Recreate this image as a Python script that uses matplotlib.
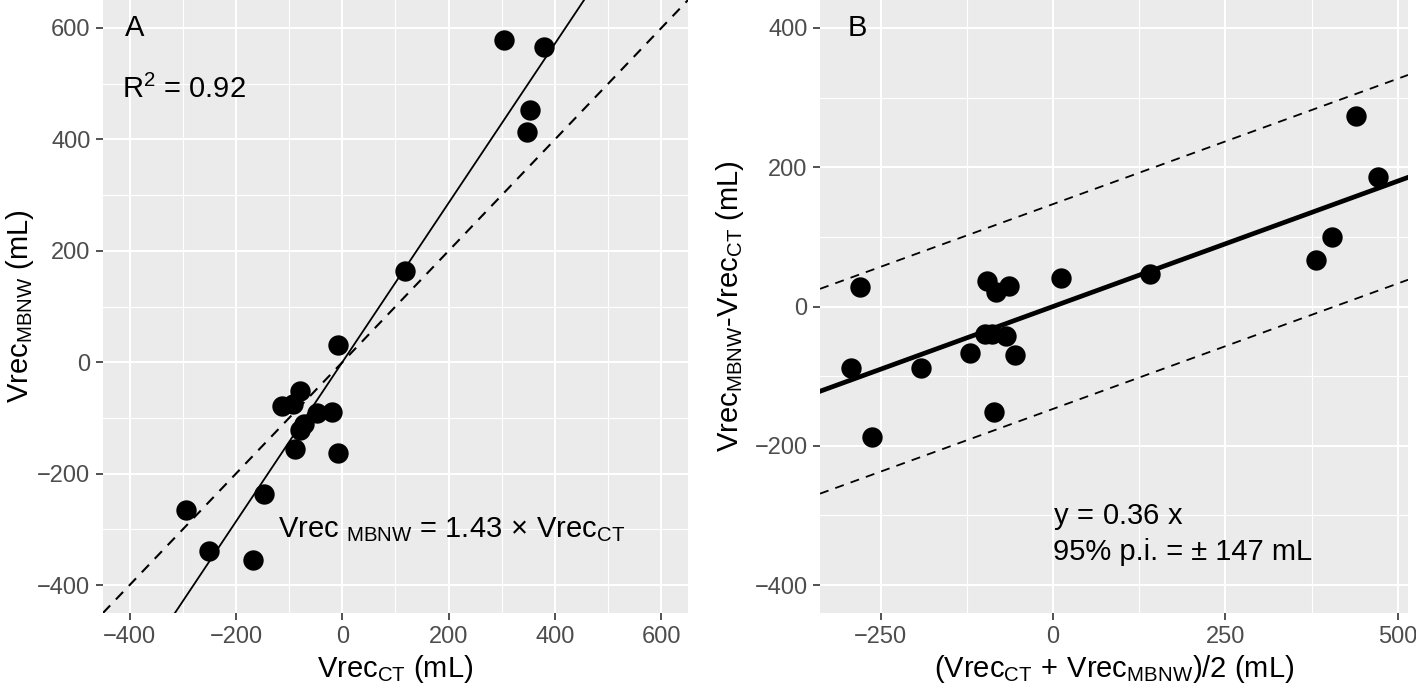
import numpy as np
import matplotlib as mpl
import matplotlib.pyplot as plt
from matplotlib.ticker import MultipleLocator

mpl.rcParams['font.family'] = ['Liberation Sans', 'DejaVu Sans']
mpl.rcParams['mathtext.fontset'] = 'custom'
mpl.rcParams['mathtext.rm'] = 'Liberation Sans'
mpl.rcParams['mathtext.it'] = 'Liberation Sans:italic'

# panel A: Vrec by CT vs Vrec by MBNW (mL)
vrec_ct = [304, 380, 353, 347, 117, -8, -79, -113, -92, -48, -20, -80, -72, -88, -8, -148, -293, -251, -168]
vrec_mbnw = [578, 566, 453, 414, 163, 31, -51, -78, -75, -91, -90, -121, -110, -155, -162, -237, -266, -338, -355]

# panel B: Bland-Altman style (mean vs difference)
ba_mean = [440, 472, 404, 381, 140, 11, -64, -96, -82, -68, -55, -98, -88, -121, -85, -192, -280, -293, -262]
ba_diff = [274, 186, 100, 67, 46, 41, 30, 37, 21, -42, -69, -39, -39, -67, -152, -88, 28, -88, -187]

slope_a = 1.43
slope_b = 0.36
pi_b = 147

BG = '#EBEBEB'
TICKC = '#4D4D4D'
DASH = (0, (5, 4))


def ggstyle(ax):
    ax.set_facecolor(BG)
    for s in ax.spines.values():
        s.set_visible(False)
    ax.grid(which='major', color='white', lw=1.5, zorder=0)
    ax.grid(which='minor', color='white', lw=0.8, zorder=0)
    ax.set_axisbelow(True)
    ax.tick_params(which='major', length=5, width=1.2, color='#333333',
                   labelsize=17, labelcolor=TICKC, pad=4)
    ax.tick_params(which='minor', length=0)


fig = plt.figure(figsize=(14.16, 6.88), dpi=100)

# ---- A ----
ax1 = fig.add_axes([0.0727, 0.109, 0.4132, 0.891])
ggstyle(ax1)
ax1.scatter(vrec_ct, vrec_mbnw, s=215, color='black', zorder=3, lw=0)
ax1.axline((0, 0), slope=slope_a, color='black', lw=1.3, zorder=2)
ax1.axline((0, 0), slope=1, color='black', lw=1.5, ls=DASH, zorder=2)
ax1.set_xlim(-450, 650)
ax1.set_ylim(-450, 650)
ax1.xaxis.set_major_locator(MultipleLocator(200))
ax1.yaxis.set_major_locator(MultipleLocator(200))
ax1.xaxis.set_minor_locator(MultipleLocator(100))
ax1.yaxis.set_minor_locator(MultipleLocator(100))
ax1.set_xlabel(r'Vrec$_{\mathrm{CT}}$ (mL)', fontsize=21, labelpad=4)
ax1.set_ylabel(r'Vrec$_{\mathrm{MBNW}}$ (mL)', fontsize=21, labelpad=1)
ax1.text(-390, 600, 'A', fontsize=21, ha='center', va='center')
ax1.text(-415, 490, r'R$^{2}$ = 0.92', fontsize=21, ha='left', va='center')
ax1.text(-120, -300, r'Vrec$\ _{\mathrm{MBNW}}$ = 1.43$\,\times\,$Vrec$_{\mathrm{CT}}$',
         fontsize=21, ha='left', va='center')

# ---- B ----
ax2 = fig.add_axes([0.5791, 0.109, 0.4153, 0.891])
ggstyle(ax2)
ax2.scatter(ba_mean, ba_diff, s=215, color='black', zorder=3, lw=0)
ax2.axline((0, 0), slope=slope_b, color='black', lw=3.4, zorder=2)
ax2.axline((0, pi_b), slope=slope_b, color='black', lw=1.3, ls=DASH, zorder=2)
ax2.axline((0, -pi_b), slope=slope_b, color='black', lw=1.3, ls=DASH, zorder=2)
ax2.set_xlim(-338, 515)
ax2.set_ylim(-440, 440)
ax2.xaxis.set_major_locator(MultipleLocator(250))
ax2.xaxis.set_minor_locator(MultipleLocator(125))
ax2.yaxis.set_major_locator(MultipleLocator(200))
ax2.yaxis.set_minor_locator(MultipleLocator(100))
ax2.set_xlabel(r'(Vrec$_{\mathrm{CT}}$$\,+\,$Vrec$_{\mathrm{MBNW}}$)/2 (mL)', fontsize=21, labelpad=4)
ax2.set_ylabel(r'Vrec$_{\mathrm{MBNW}}$-Vrec$_{\mathrm{CT}}$ (mL)', fontsize=21, labelpad=6)
ax2.text(-284, 400, 'B', fontsize=21, ha='center', va='center')
ax2.text(0, -302, r'y$\,=\,$0.36 x', fontsize=21, ha='left', va='center')
ax2.text(0, -353, '95% p.i. = ± 147 mL', fontsize=21, ha='left', va='center')

fig.savefig('out.png', dpi=100)
